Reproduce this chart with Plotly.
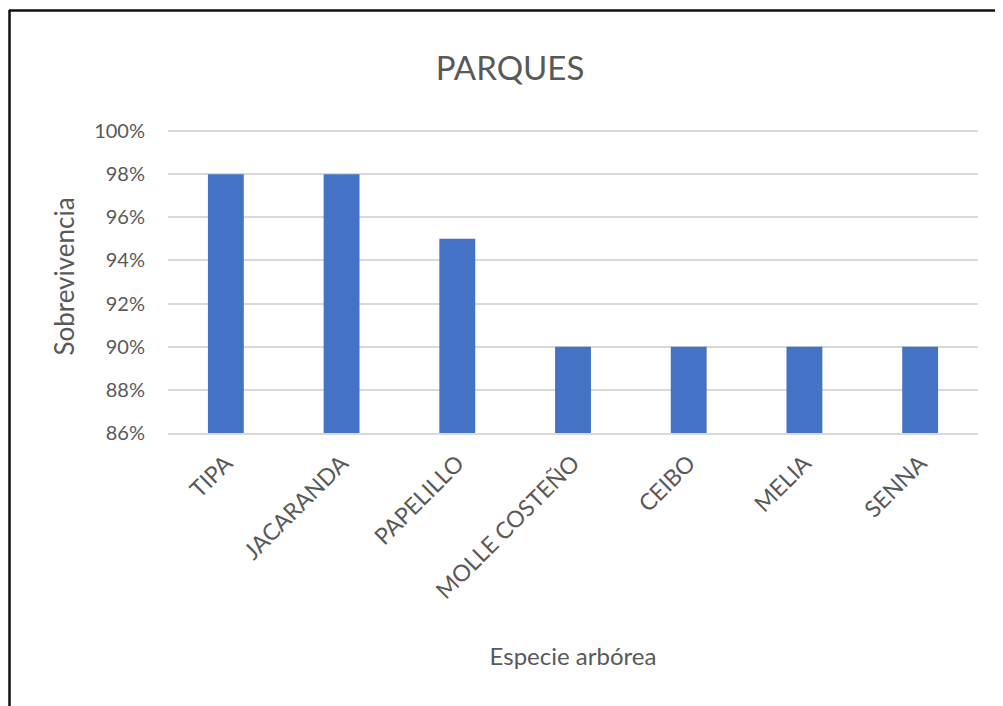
import plotly.graph_objects as go

categories = ["TIPA", "JACARANDA", "PAPELILLO", "MOLLE COSTEÑO", "CEIBO", "MELIA", "SENNA"]
survival = [0.98, 0.98, 0.95, 0.90, 0.90, 0.90, 0.90]
y_ticks = [0.86, 0.88, 0.90, 0.92, 0.94, 0.96, 0.98, 1.00]

FONT = "Lato, Open Sans, sans-serif"
GRAY = "#595959"

OFF = 8  # page body margin
W, H = 1003 - OFF, 706 - OFF
L, R, T, B = 168 - OFF, 25, 120 - OFF, 273
pw = W - L - R
ph = H - T - B
y_top = 0.86 + 0.14 * (433 - 120) / (433 - 131)

def px_x(p):
    return (p - OFF - L) / pw

def px_y(p):
    return (H - B - (p - OFF)) / ph

fig = go.Figure(go.Bar(
    x=categories, y=[v - 0.86 for v in survival], base=0.86,
    marker=dict(color="#4472C4", line=dict(width=0)),
    hovertext=[f"{v:.0%}" for v in survival],
))

fig.update_layout(
    width=W, height=H,
    margin=dict(l=L, r=R, t=T, b=B),
    paper_bgcolor="white", plot_bgcolor="white",
    bargap=0.69,
    showlegend=False,
    title=dict(text="PARQUES", x=(510 - OFF) / W, xanchor="center",
               y=1 - (68 - OFF) / H, yanchor="middle",
               font=dict(family=FONT, size=33, color=GRAY)),
    font=dict(family=FONT, color=GRAY),
    shapes=[
        dict(type="line", xref="paper", yref="paper", x0=px_x(9.5), x1=px_x(9.5),
             y0=px_y(10), y1=px_y(720), line=dict(color="#111111", width=2.5)),
        dict(type="line", xref="paper", yref="paper", x0=px_x(9), x1=px_x(1000),
             y0=px_y(10.5), y1=px_y(10.5), line=dict(color="#111111", width=2.5)),
        dict(type="line", xref="paper", yref="paper", x0=px_x(999), x1=px_x(999),
             y0=px_y(10), y1=px_y(720), line=dict(color="#dddddd", width=1.5)),
    ],
)

fig.update_yaxes(
    range=[0.86, y_top], tickvals=y_ticks, tickformat=".0%",
    showgrid=True, gridcolor="#d9d9d9", gridwidth=1.5,
    zeroline=False, showline=False,
    tickfont=dict(family=FONT, size=20, color=GRAY),
    ticklabelstandoff=22,
    title=dict(text="Sobrevivencia", font=dict(family=FONT, size=26, color=GRAY), standoff=12),
)

fig.update_xaxes(
    tickangle=-45,
    showline=True, linecolor="#d9d9d9", linewidth=1.5,
    tickfont=dict(family=FONT, size=23, color=GRAY),
    ticklabelstandoff=6,
    title=dict(text="Especie arbórea", font=dict(family=FONT, size=24, color=GRAY), standoff=45),
)

fig.write_html("out.html")
